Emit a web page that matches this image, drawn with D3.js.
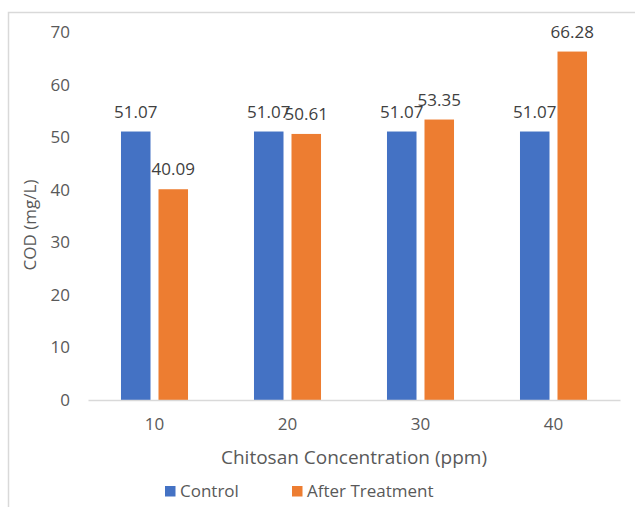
<!DOCTYPE html>
<html>
<head>
<meta charset="utf-8">
<script src="https://cdn.jsdelivr.net/npm/d3@7"></script>
<style>
  html, body { margin: 0; padding: 0; background: #fff; }
  svg { display: block; font-family: "Open Sans", "Noto Sans", sans-serif; }
</style>
</head>
<body>
<svg id="chart" width="635" height="507"></svg>
<script>
// Chitosan dosing vs. COD
const categories = ["10", "20", "30", "40"];
const seriesNames = ["Control", "After Treatment"];
const controlValues = [51.07, 51.07, 51.07, 51.07];
const treatedValues = [40.09, 50.61, 53.35, 66.28];
const yTicks = [0, 10, 20, 30, 40, 50, 60, 70];
const colors = ["#4472C4", "#ED7D31"];

const rows = categories.map((c, i) => ({
  cat: c,
  values: [controlValues[i], treatedValues[i]]
}));

const svg = d3.select("#chart");
const textColor = "#595959";
const plot = { left: 88, right: 620, top: 32, bottom: 400 };

// chart frame
svg.append("path")
  .attr("d", `M8.5,507 L8.5,12.5 L635,12.5`)
  .attr("fill", "none")
  .attr("stroke", "#d9d9d9")
  .attr("stroke-width", 1.5);

const x0 = d3.scaleBand()
  .domain(categories)
  .range([plot.left, plot.right])
  .paddingInner(0.496)
  .paddingOuter(0.248);

const x1 = d3.scaleBand()
  .domain(seriesNames)
  .range([0, x0.bandwidth()])
  .paddingInner(0.213);

const y = d3.scaleLinear()
  .domain([0, 70])
  .range([plot.bottom, plot.top]);

// y axis labels
const yAxis = svg.append("g")
  .attr("transform", `translate(${plot.left},0)`)
  .call(d3.axisLeft(y).tickValues(yTicks).tickSize(0).tickPadding(18));
yAxis.select(".domain").remove();
yAxis.selectAll("text")
  .attr("fill", textColor)
  .style("font-size", "17px")
  .style("font-family", "'Open Sans', sans-serif");

// bars
const groups = svg.append("g").selectAll("g")
  .data(rows)
  .join("g")
  .attr("transform", d => `translate(${x0(d.cat)},0)`);

groups.selectAll("rect")
  .data(d => d.values.map((v, i) => ({ key: seriesNames[i], v, i })))
  .join("rect")
  .attr("x", d => x1(d.key))
  .attr("y", d => y(d.v))
  .attr("width", x1.bandwidth())
  .attr("height", d => y(0) - y(d.v))
  .attr("fill", d => colors[d.i]);

// value labels
groups.selectAll("text.val")
  .data(d => d.values.map((v, i) => ({ key: seriesNames[i], v, i })))
  .join("text")
  .attr("class", "val")
  .attr("x", d => x1(d.key) + x1.bandwidth() / 2)
  .attr("y", d => y(d.v) - 14)
  .attr("text-anchor", "middle")
  .attr("fill", "#404040")
  .style("font-size", "17px")
  .text(d => d.v.toFixed(2));

// x axis
const xAxis = svg.append("g")
  .attr("transform", `translate(0,${plot.bottom})`)
  .call(d3.axisBottom(x0).tickSize(0).tickPadding(18).tickSizeOuter(0));
xAxis.select(".domain")
  .attr("stroke", "#d9d9d9")
  .attr("stroke-width", 1.5);
xAxis.selectAll("text")
  .attr("fill", textColor)
  .style("font-size", "17px")
  .style("font-family", "'Open Sans', sans-serif");

// axis titles
svg.append("text")
  .attr("x", 354)
  .attr("y", 464)
  .attr("text-anchor", "middle")
  .attr("fill", textColor)
  .style("font-size", "19px")
  .text("Chitosan Concentration (ppm)");

svg.append("text")
  .attr("transform", `translate(36,225) rotate(-90)`)
  .attr("text-anchor", "middle")
  .attr("fill", textColor)
  .style("font-size", "17px")
  .text("COD (mg/L)");

// legend
const legendItems = [
  { name: seriesNames[0], color: colors[0], x: 165 },
  { name: seriesNames[1], color: colors[1], x: 292 }
];
const legend = svg.append("g").selectAll("g")
  .data(legendItems)
  .join("g")
  .attr("transform", d => `translate(${d.x},486)`);
legend.append("rect")
  .attr("width", 10.5)
  .attr("height", 10.5)
  .attr("fill", d => d.color);
legend.append("text")
  .attr("x", 15)
  .attr("y", 11)
  .attr("fill", textColor)
  .style("font-size", "17px")
  .text(d => d.name);
</script>
</body>
</html>
